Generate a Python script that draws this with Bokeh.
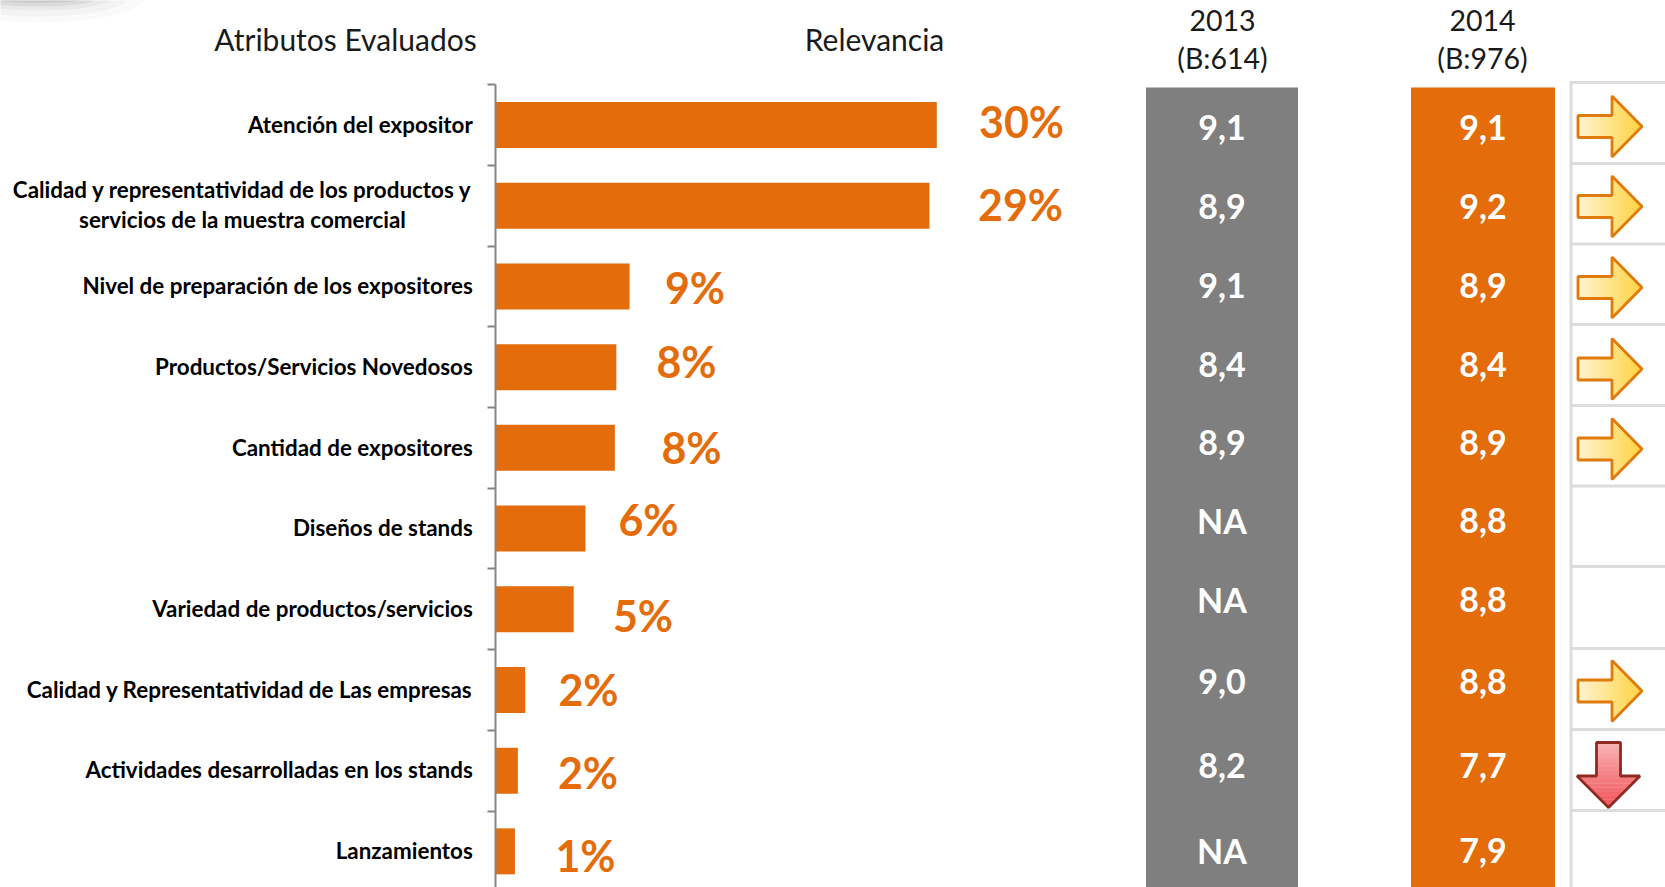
import numpy as np
from bokeh.plotting import figure
from bokeh.embed import file_html
from bokeh.resources import INLINE
from bokeh.core.properties import value
from bokeh.models import Range1d, FixedTicker, LinearAxis

# ---- data ----
categories = ["Atención del expositor",
              "Calidad y representatividad de los productos y\nservicios de la muestra comercial",
              "Nivel de preparación de los expositores",
              "Productos/Servicios Novedosos",
              "Cantidad de expositores",
              "Diseños de stands",
              "Variedad de productos/servicios",
              "Calidad y Representatividad de Las empresas",
              "Actividades desarrolladas en los stands",
              "Lanzamientos"]
relevance = [30.0, 29.5, 9.1, 8.2, 8.1, 6.1, 5.3, 2.0, 1.5, 1.3]
relevance_labels = ["30%", "29%", "9%", "8%", "8%", "6%", "5%", "2%", "2%", "1%"]
scores_2013 = ["9,1", "8,9", "9,1", "8,4", "8,9", "NA", "NA", "9,0", "8,2", "NA"]
scores_2014 = ["9,1", "9,2", "8,9", "8,4", "8,9", "8,8", "8,8", "8,8", "7,7", "7,9"]
trend = ["right", "right", "right", "right", "right", None, None, "right", "down", None]

# ---- layout (page pixels) ----
W, H = 1665, 887
AXIS_X = 495.3
PX_PER_PCT = 14.7
ROW_TOP = 84.2
ROW_H = 80.7
BAR_H = 46 / ROW_H
ORANGE = "#E46C0A"
GREY = "#7F7F7F"
FONT = value("Lato")
pct_x = [1021, 1020, 694.5, 686, 691, 648, 642.5, 588, 587.5, 585]
pct_y = [121, 204, 287, 361, 447, 519, 615, 689, 772, 855]
score_y = [127.4, 206, 284.6, 364, 441.7, 520, 599, 681, 764.6, 849.5]
grid_y = [82, 163, 243.5, 324, 405, 485.5, 566, 648, 729, 810]
arrow_y = [126, 206, 287, 368.5, 448.5, None, None, 690.5, 742, None]
COL13 = (1145.5, 1297.5)
COL14 = (1410.5, 1554.5)
COL_TOP = 87

p = figure(width=W, height=H, output_backend="svg", toolbar_location=None,
           x_range=Range1d(-AXIS_X / PX_PER_PCT, (W - AXIS_X) / PX_PER_PCT),
           y_range=Range1d((H - ROW_TOP) / ROW_H, -ROW_TOP / ROW_H),
           min_border_left=0, min_border_right=0, min_border_top=0, min_border_bottom=0,
           y_axis_location=None, x_axis_location=None, margin=0)
p.outline_line_color = None
p.grid.visible = False
p.extra_x_ranges["px"] = Range1d(0, W)
p.extra_y_ranges["py"] = Range1d(H, 0)
PX = dict(x_range_name="px", y_range_name="py")

rows = list(range(len(categories)))
centres = [i + 0.5 for i in rows]
label_ticks = [i + 0.49 for i in rows]

# soft shadow in the top-left corner
t = np.linspace(0, 2 * np.pi, 40)
for rx, ry, a in [(105, 24, 0.03), (88, 18, 0.04), (72, 12, 0.06), (58, 8, 0.10), (46, 4, 0.14)]:
    p.patch(list(38 + rx * np.cos(t)), list(-2 + ry * np.sin(t)), fill_color="#555555", fill_alpha=a,
            line_color=None, **PX)

ax = LinearAxis(ticker=FixedTicker(ticks=label_ticks, minor_ticks=rows), bounds=(0, len(categories)), fixed_location=0)
ax.major_label_overrides = {c: ("" if "\n" in s else s) for c, s in zip(label_ticks, categories)}
ax.major_label_text_font = "Lato"
ax.major_label_text_font_style = "bold"
ax.major_label_text_font_size = "22.4px"
ax.major_label_text_color = "#000000"
ax.major_label_standoff = 15
ax.major_tick_line_color = None
ax.major_tick_out = 0
ax.major_tick_in = 0
ax.minor_tick_out = 8
ax.minor_tick_in = 0
ax.minor_tick_line_color = "#868686"
ax.minor_tick_line_width = 2
ax.axis_line_color = "#868686"
ax.axis_line_width = 2
p.add_layout(ax, "left")

# two-line category, centred on itself as in the reference
p.text(x=[242], y=[ROW_TOP + 1.5 * ROW_H - 1.5], text=[categories[1]], text_font=FONT, text_font_style="bold",
       text_font_size="22.4px", text_color="#000000", text_align="center", text_baseline="middle",
       text_line_height=1.1, **PX)

# bars
p.hbar(y=centres, left=0, right=relevance, height=BAR_H, color=ORANGE, line_color=None)
p.text(x=pct_x, y=pct_y, text=relevance_labels, text_font=FONT, text_font_style="bold", text_font_size="43px",
       text_color=ORANGE, text_align="center", text_baseline="middle", **PX)

# score columns
p.quad(left=[COL13[0]], right=[COL13[1]], top=[COL_TOP], bottom=[H], color=GREY, line_color=None, **PX)
p.quad(left=[COL14[0]], right=[COL14[1]], top=[COL_TOP], bottom=[H], color=ORANGE, line_color=None, **PX)
for col, vals in ((COL13, scores_2013), (COL14, scores_2014)):
    p.text(x=[(col[0] + col[1]) / 2] * len(vals), y=score_y, text=vals, text_font=FONT, text_font_style="bold",
           text_font_size="34px", text_color="#FFFFFF", text_align="center", text_baseline="middle", **PX)

# headers
p.text(x=[345, 874], y=[38, 38], text=["Atributos Evaluados", "Relevancia"], text_font=FONT,
       text_font_size="30px", text_color="#1a1a1a", text_align="center", text_baseline="middle", **PX)
p.text(x=[1222, 1222, 1482, 1482], y=[20, 57, 20, 57], text=["2013", "(B:614)", "2014", "(B:976)"],
       text_font=FONT, text_font_size="28.5px", text_color="#1a1a1a", text_align="center",
       text_baseline="middle", **PX)

# right-hand grid
GX = 1570.5
p.segment(x0=[GX] * len(grid_y), x1=[W] * len(grid_y), y0=grid_y, y1=grid_y, line_color="#DDDDDD", line_width=3, **PX)
p.segment(x0=[GX], x1=[GX], y0=[grid_y[0] - 1.5], y1=[H], line_color="#DDDDDD", line_width=3, **PX)


def lerp(c0, c1, s):
    return "#%02x%02x%02x" % tuple(round(a + (b - a) * s) for a, b in zip(c0, c1))


def right_arrow(cy):
    x0, xh, xt = 1577.5, 1611.5, 1641.5
    st, hh = 11, 30.5
    n = 16
    xs, ys, cols = [], [], []
    def half(x):
        return st if x < xh else hh * (xt - x) / (xt - xh)
    for k in range(n):
        a, b = x0 + (xt - x0) * k / n, x0 + (xt - x0) * (k + 1) / n + 0.4
        pts_x = [a]; top = [half(a)]
        if a < xh < b:
            pts_x += [xh, xh]; top += [st, hh]
        pts_x.append(b); top.append(max(half(b), 0))
        xs.append(pts_x + pts_x[::-1])
        ys.append([cy - s for s in top] + [cy + s for s in top[::-1]])
        cols.append(lerp((253, 243, 205), (255, 212, 70), k / (n - 1)))
    p.patches(xs, ys, fill_color=cols, line_color=None, **PX)
    p.patch([x0, xh, xh, xt, xh, xh, x0, x0], [cy - st, cy - st, cy - hh, cy, cy + hh, cy + st, cy + st, cy - st],
            fill_color=None, line_color="#E07A0C", line_width=2.8, **PX)


def down_arrow(top):
    cx, sw, hw = 1608, 12, 31.5
    ys_, yh, yt = top, top + 33.5, top + 65
    n = 16
    xs, ys, cols = [], [], []
    def half(y):
        return sw if y < yh else hw * (yt - y) / (yt - yh)
    for k in range(n):
        a, b = ys_ + (yt - ys_) * k / n, ys_ + (yt - ys_) * (k + 1) / n + 0.4
        pts = [a]; w = [half(a)]
        if a < yh < b:
            pts += [yh, yh]; w += [sw, hw]
        pts.append(b); w.append(max(half(b), 0))
        ys.append(pts + pts[::-1])
        xs.append([cx - s for s in w] + [cx + s for s in w[::-1]])
        cols.append(lerp((249, 178, 178), (240, 85, 92), k / (n - 1)))
    p.patches(xs, ys, fill_color=cols, line_color=None, **PX)
    p.patch([cx - sw, cx + sw, cx + sw, cx + hw, cx, cx - hw, cx - sw, cx - sw],
            [ys_, ys_, yh, yh, yt, yh, yh, ys_],
            fill_color=None, line_color="#8E2A20", line_width=2.8, **PX)


for kind, ay in zip(trend, arrow_y):
    if kind == "right":
        right_arrow(ay)
    elif kind == "down":
        down_arrow(ay)

out = open("out.html", "w")
out.write(file_html(p, INLINE))
out.close()
